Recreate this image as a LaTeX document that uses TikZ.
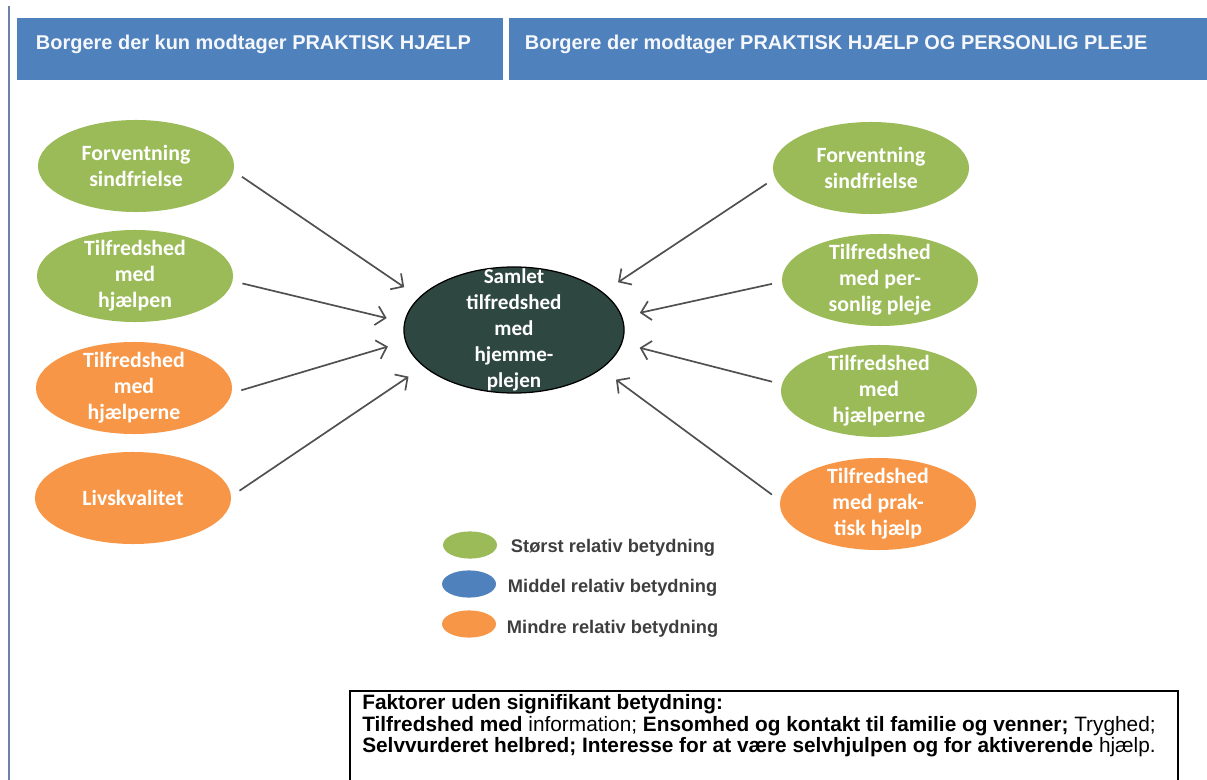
\documentclass[tikz,border=0pt]{standalone}
\usepackage{fontspec}
\setmainfont{Carlito}
\newfontfamily\arial{Liberation Sans}
\usetikzlibrary{shapes.geometric,arrows.meta}

\definecolor{gruen}{HTML}{9BBB59}
\definecolor{orangeton}{HTML}{F79646}
\definecolor{blau}{HTML}{4F81BD}
\definecolor{dunkel}{HTML}{2E4740}
\definecolor{pfeilgrau}{HTML}{505050}
\definecolor{rahmen}{HTML}{6F7FA6}
\definecolor{legtext}{HTML}{3F3F3F}

\tikzset{
    faktor/.style={ellipse, minimum width=4.9cm, minimum height=2.3cm, inner sep=0pt},
    beschr/.style={text=white, align=center, font=\bfseries\fontsize{15.5}{18.5}\selectfont},
    pfeil/.style={draw=pfeilgrau, line width=1.2pt, -{Straight Barb[length=2.3mm,width=4.8mm]},
        shorten <=0.25cm, shorten >=0.45cm},
    kopf/.style={anchor=west, text=white!94!blau, font=\arial\bfseries\fontsize{14.2}{17}\selectfont},
    legende/.style={ellipse, minimum width=1.35cm, minimum height=0.68cm, inner sep=0pt},
    legtxt/.style={anchor=west, text=legtext, font=\arial\bfseries\fontsize{13}{15}\selectfont}
}

\begin{document}
\begin{tikzpicture}[x=0.025cm,y=-0.025cm]
    \useasboundingbox (0,0) rectangle (1207,780);
    \clip (0,0) rectangle (1207,780);
    % Rahmen links:
    \draw[rahmen, line width=1.2pt] (9,6) -- (9,780);
    % Kopfzeilen:
    \fill[blau] (17,18) rectangle (503,80);
    \fill[blau] (509,18) rectangle (1207,80);
    \node[kopf] (kopfA) at (31,44) {Borgere der kun modtager PRAKTISK HJÆLP};
    \node[kopf] (kopfB) at (520,44) {Borgere der modtager PRAKTISK HJÆLP OG PERSONLIG PLEJE};
    % Mitte:
    \node[ellipse, fill=dunkel, draw=black, line width=0.9pt, minimum width=5.5cm, minimum height=3.15cm,
        label={[beschr, font=\bfseries\fontsize{15}{18.5}\selectfont]center:Samlet\\tilfredshed\\med\\hjemme-\\plejen}] (mitte) at (514,330) {};
    % Faktoren links:
    \node[faktor, fill=gruen, label={[beschr]center:Forventning\\sindfrielse}] (l1) at (136,166) {};
    \node[faktor, fill=gruen, label={[beschr]center:Tilfredshed\\med\\hjælpen}] (l2) at (135,276) {};
    \node[faktor, fill=orangeton, label={[beschr]center:Tilfredshed\\med\\hjælperne}] (l3) at (134,388) {};
    \node[faktor, fill=orangeton, label={[beschr]center:Livskvalitet}] (l4) at (133,498) {};
    % Faktoren rechts:
    \node[faktor, fill=gruen, label={[beschr]center:Forventning\\sindfrielse}] (r1) at (871,168) {};
    \node[faktor, fill=gruen, label={[beschr]center:Tilfredshed\\med per-\\sonlig pleje}] (r2) at (880,280) {};
    \node[faktor, fill=gruen, label={[beschr]center:Tilfredshed\\med\\hjælperne}] (r3) at (879,391) {};
    \node[faktor, fill=orangeton, label={[beschr]center:Tilfredshed\\med prak-\\tisk hjælp}] (r4) at (878,504) {};
    % Pfeile:
    \draw[pfeil] (l1.357) -- (mitte.161);
    \draw[pfeil] (l2.357) -- (mitte.176);
    \draw[pfeil] (l3.357) -- (mitte.186);
    \draw[pfeil] (l4.1) -- (mitte.202);
    \draw[pfeil] (r1.186) -- (mitte.23);
    \draw[pfeil] (r2.181) -- (mitte.7);
    \draw[pfeil] (r3.176) -- (mitte.353);
    \draw[pfeil] (r4.178) -- (mitte.336);
    % Legende:
    \node[legende, fill=gruen] (legA) at (470,545) {};
    \node[legende, fill=blau] (legB) at (469,584) {};
    \node[legende, fill=orangeton] (legC) at (469,624) {};
    \node[legtxt] (txtA) at (506,548) {Størst relativ betydning};
    \node[legtxt] (txtB) at (503,588) {Middel relativ betydning};
    \node[legtxt] (txtC) at (502,629) {Mindre relativ betydning};
    % Kasten unten:
    \draw[line width=1.5pt] (350,800) -- (350,691) -- (1178,691) -- (1178,800);
    \node[anchor=north west, align=left, inner sep=0pt, font=\arial\fontsize{14.8}{15.4}\selectfont] (ohne) at (362,694)
        {\textbf{Faktorer uden signifikant betydning:}\\
         \textbf{Tilfredshed med} information; \textbf{Ensomhed og kontakt til familie og venner;} Tryghed;\\
         \textbf{Selvvurderet helbred; Interesse for at være selvhjulpen og for aktiverende} hjælp.};
\end{tikzpicture}
\end{document}
